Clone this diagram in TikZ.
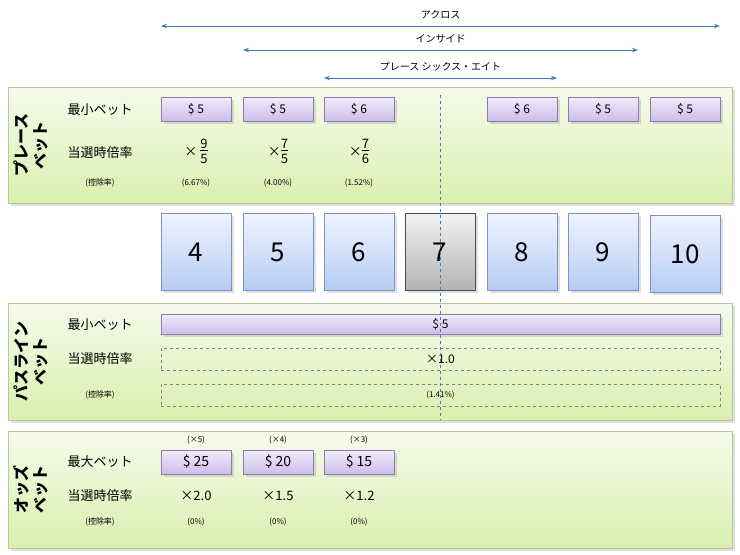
\documentclass[tikz,border=0pt]{standalone}
\usepackage{fontspec}
\setmainfont{Noto Sans CJK JP}
\usetikzlibrary{arrows.meta,shadows}
\definecolor{arr}{HTML}{3C7DBA}
\definecolor{ptop}{HTML}{F1EBFA}
\definecolor{pbot}{HTML}{CDBDEB}
\definecolor{pbd}{HTML}{8C7DAF}
\definecolor{btop}{HTML}{EEF3FF}
\definecolor{bbot}{HTML}{B7CCF4}
\definecolor{bbd}{HTML}{7E93C2}
\definecolor{gtop}{HTML}{F6FAEC}
\definecolor{gbot}{HTML}{D9F0AE}
\definecolor{gbd}{HTML}{B5C99A}
\newcommand{\myfrac}[2]{\begin{tabular}{@{}c@{}}#1\\[-2pt]\hline\rule{0pt}{13pt}#2\end{tabular}}
\begin{document}
\begin{tikzpicture}[x=1pt,y=-1pt,
 panel/.style={draw=gbd,top color=gtop,bottom color=gbot,drop shadow={opacity=0.25}},
 betbox/.style={draw=pbd,top color=ptop,bottom color=pbot,minimum height=24pt,drop shadow={opacity=0.25},font=\fontsize{12}{12}\selectfont},
 numbox/.style={draw=bbd,top color=btop,bottom color=bbot,minimum width=70pt,minimum height=77pt,font=\fontsize{26}{26}\selectfont,drop shadow={opacity=0.25}},
 graybox/.style={draw=black!70,top color=black!5,bottom color=black!30,minimum width=70pt,minimum height=77pt,font=\fontsize{26}{26}\selectfont,drop shadow={opacity=0.25}},
 dbox/.style={draw=gray,dashed,minimum height=22pt,font=\fontsize{8}{8}\selectfont},
 rowlab/.style={font=\fontsize{13}{13}\selectfont},
 smlab/.style={font=\fontsize{8}{8}\selectfont},
 side/.style={rotate=90,align=center,font=\bfseries\fontsize{16}{19}\selectfont},
 val/.style={font=\fontsize{13}{13}\selectfont},
 span/.style={arr,{Stealth[length=6pt]}-{Stealth[length=6pt]},thick},
 toplab/.style={font=\fontsize{10}{10}\selectfont}]
\useasboundingbox (0,0) rectangle (740,555);
% arrows
\coordinate (a1) at (161,26); \coordinate (a2) at (720,26);
\coordinate (b1) at (243,50); \coordinate (b2) at (638,50);
\coordinate (c1) at (324,78); \coordinate (c2) at (557,78);
\draw[span] (a1) -- (a2) node[midway,above=3pt,toplab,black]{アクロス};
\draw[span] (b1) -- (b2) node[midway,above=3pt,toplab,black]{インサイド};
\draw[span] (c1) -- (c2) node[midway,above=3pt,toplab,black]{プレース シックス・エイト};
% panels
\node[panel,minimum width=724pt,minimum height=116pt,anchor=north west] (p1) at (8,87) {};
\node[panel,minimum width=724pt,minimum height=117pt,anchor=north west] (p2) at (8,303) {};
\node[panel,minimum width=724pt,minimum height=117pt,anchor=north west] (p3) at (8,431) {};
\node[side] (s1) at (31,145) {プレース\\ベット};
\node[side] (s2) at (31,361) {パスライン\\ベット};
\node[side] (s3) at (31,489) {オッズ\\ベット};
% place bet rows
\node[rowlab] (l1) at (100,110) {最小ベット};
\node[rowlab] (l2) at (100,153) {当選時倍率};
\node[smlab] (l3) at (100,183) {(控除率)};
\foreach \x/\t/\n in {196/\$ 5/a,278/\$ 5/b,359/\$ 6/c,522/\$ 6/d,603/\$ 5/e,685/\$ 5/f}
  \node[betbox,minimum width=70pt] (pb\n) at (\x,109) {\t};
\node[val] (m1) at (196,153) {× \myfrac{9}{5}};
\node[val] (m2) at (278,153) {×\myfrac{7}{5}};
\node[val] (m3) at (359,153) {×\myfrac{7}{6}};
\node[smlab] (r1) at (196,183) {(6.67\%)};
\node[smlab] (r2) at (278,183) {(4.00\%)};
\node[smlab] (r3) at (359,183) {(1.52\%)};
% number boxes
\node[numbox] (n4) at (196,252) {4};
\node[numbox] (n5) at (278,252) {5};
\node[numbox] (n6) at (359,252) {6};
\node[graybox] (n7) at (440,252) {7};
\node[numbox] (n8) at (522,252) {8};
\node[numbox] (n9) at (603,252) {9};
\node[numbox] (n10) at (685,254) {10};
% pass line
\node[rowlab] (q1) at (100,325) {最小ベット};
\node[rowlab] (q2) at (100,359) {当選時倍率};
\node[smlab] (q3) at (100,395) {(控除率)};
\node[betbox,minimum width=559pt,minimum height=20pt] (pl) at (440.5,324) {\$ 5};
\node[dbox,minimum width=559pt,font=\fontsize{12}{12}\selectfont] (pm) at (440.5,359) {×1.0};
\node[dbox,minimum width=559pt] (pr) at (440.5,395) {(1.41\%)};
% odds
\node[rowlab] (o1) at (100,462) {最大ベット};
\node[rowlab] (o2) at (100,496) {当選時倍率};
\node[smlab] (o3) at (100,522) {(控除率)};
\foreach \x/\t/\k/\m/\n in {196/25/5/2.0/a,278/20/4/1.5/b,359/15/3/1.2/c}{
  \node[betbox,minimum width=70pt,font=\fontsize{14}{14}\selectfont] (ob\n) at (\x,462) {\$ \t};
  \node[smlab] (ok\n) at (\x,440) {(×\k)};
  \node[val] (om\n) at (\x,496) {×\m};
  \node[smlab] (or\n) at (\x,522) {(0\%)};
}
% center dashed line
\coordinate (d1) at (440,95); \coordinate (d2) at (440,420);
\draw[arr,dashed] (d1) -- (d2);
\end{tikzpicture}
\end{document}
